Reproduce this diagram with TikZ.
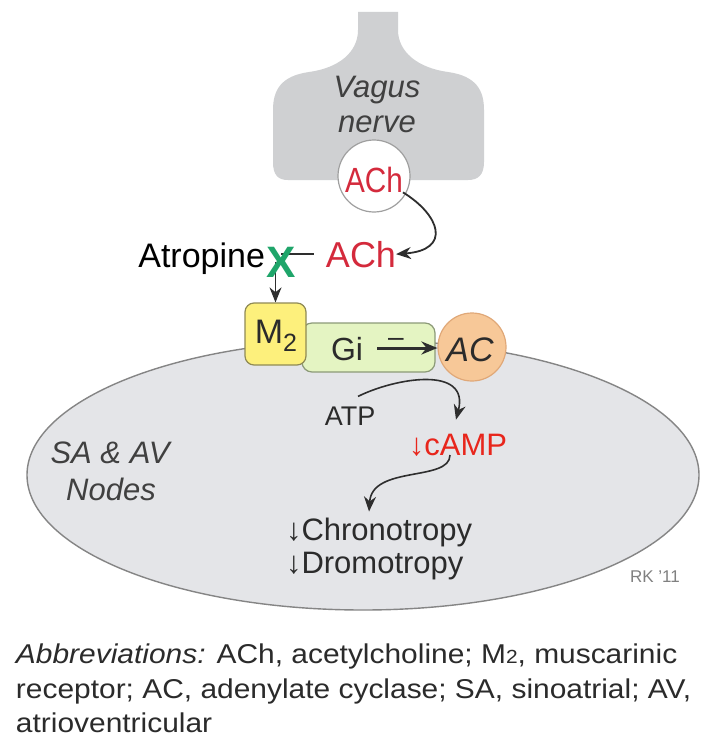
\documentclass[tikz,border=0pt]{standalone}
\usepackage{fontspec}
\setmainfont{Liberation Sans}
\newfontfamily\narrowfont[FakeStretch=0.85]{Liberation Sans}
\newfontfamily\widefont[FakeStretch=1.1]{Liberation Sans}
\usetikzlibrary{arrows.meta,calc}
\pgfdeclarelayer{back}
\pgfsetlayers{back,main}
\definecolor{txt}{HTML}{2B2B2B}
\definecolor{achred}{HTML}{D42A3C}
\definecolor{campred}{HTML}{E8261C}
\definecolor{xgreen}{HTML}{1FA56A}
\definecolor{vagusgray}{HTML}{CFD0D2}
\definecolor{cellgray}{HTML}{E4E5E8}
\definecolor{cellborder}{HTML}{858585}
\definecolor{myellow}{HTML}{FDF07C}
\definecolor{myellowb}{HTML}{8F8A55}
\definecolor{gigreen}{HTML}{E4F4C2}
\definecolor{gigreenb}{HTML}{8C9A78}
\definecolor{acorange}{HTML}{F7C898}
\definecolor{acorangeb}{HTML}{E0A878}
\definecolor{arrowc}{HTML}{2E2E2E}
\newcommand\fs[1]{\fontsize{#1}{#1}\selectfont}
\begin{document}
\begin{tikzpicture}[x=1pt,y=-1pt,
  lbl/.style={inner sep=0pt, outer sep=0pt, anchor=base, text=txt},
  conn/.style={draw=arrowc, line width=1.8pt, -{Stealth[length=15pt,width=12pt]}},
  plainline/.style={draw=arrowc, line width=1.8pt}]
\begin{pgfonlayer}{back}
\fill[white] (0,0) rectangle (720,749);
\end{pgfonlayer}
\useasboundingbox (0,0) rectangle (720,749);

% cell (SA & AV nodes)
\fill[cellgray, draw=cellborder, line width=1.4pt] (363,475) ellipse [x radius=336, y radius=135];

% vagus nerve terminal
\fill[vagusgray] (358,12) -- (398,12) -- (398,30)
  .. controls (398,52) and (418,68) .. (448,72)
  .. controls (476,76) and (484,90) .. (484,110) -- (484,162)
  .. controls (484,175) and (478,180) .. (468,180) -- (288,180)
  .. controls (278,180) and (273,175) .. (273,162) -- (273,110)
  .. controls (273,90) and (281,76) .. (309,72)
  .. controls (339,68) and (358,52) .. (358,30) -- cycle;
\node[lbl, text=txt!90] (vagus) at (377,98) {\fs{31}\itshape Vagus};
\node[lbl, text=txt!90] (nerve) at (377,132) {\fs{31}\itshape nerve};

\node[circle, draw=gray!75, fill=white, line width=1.2pt, minimum size=72pt, inner sep=0pt] (vesicle) at (374,176) {};
\node[lbl, text=achred] (achin) at (374,192) {\narrowfont\fs{35}ACh};

\node[lbl, text=achred] (ach2) at (361,267) {\fs{36}ACh};
\node[lbl, anchor=base east, text=black] (atropine) at (265,267) {\fs{34}Atropine};
\node[lbl, text=xgreen] (xmark) at (281,277) {\fs{44}\bfseries X};

% receptor complex
\node[draw=gigreenb, fill=gigreen, rounded corners=10pt, line width=1.2pt, minimum width=133pt, minimum height=49pt] (gi) at (368.5,347.5) {};
\node[draw=myellowb, fill=myellow, rounded corners=9pt, line width=1.2pt, minimum width=61pt, minimum height=62pt] (m2) at (275.5,334) {};
\node[circle, draw=acorangeb, fill=acorange, line width=1.2pt, minimum size=68pt, inner sep=0pt] (ac) at (472,347) {};
\node[lbl] (m2lbl) at (276,343) {\fs{34}M\raisebox{-8pt}{\fs{25}2}};
\node[lbl] (gilbl) at (347,360) {\fs{32}Gi};
\node[lbl] (aclbl) at (470,361) {\fs{34}\itshape AC};
\node[lbl] (minus) at (396,346) {\fs{28}\textendash};
\coordinate (gistart) at (377,348);
\draw[draw=arrowc, line width=3pt, -{Stealth[length=16pt,width=13pt]}] (gistart) -- (ac.west |- gistart);

% inside the cell
\node[lbl] (atp) at (350,425) {\fs{27}ATP};
\node[lbl, text=campred] (camp) at (458,455) {\fs{31}↓cAMP};
\node[lbl, anchor=base west] (chrono) at (286,540) {\fs{31}↓Chronotropy};
\node[lbl, anchor=base west] (dromo) at (286,573) {\fs{31}↓Dromotropy};
\node[lbl, text=txt!90] (sa) at (110,463) {\fs{31}\itshape SA \& AV};
\node[lbl, text=txt!90] (nodes) at (111,500) {\fs{31}\itshape Nodes};
\node[lbl, text=gray] (rk) at (655,582) {\fs{17}RK '11};

% abbreviations
\node[lbl, anchor=base west] (ab1) at (16,663) {\widefont\fs{27.2}\itshape Abbreviations:\upshape{} ACh, acetylcholine; M{\fs{19}2}, muscarinic};
\node[lbl, anchor=base west] (ab2) at (16,698) {\widefont\fs{27.2}receptor; AC, adenylate cyclase; SA, sinoatrial; AV,};
\node[lbl, anchor=base west] (ab3) at (16,732) {\widefont\fs{27.2}atrioventricular};

% connectors
\begin{pgfonlayer}{back}
\draw[plainline] ($(ach2.west)+(-12,0)$) -- (xmark.center |- ach2.west);
\draw[conn] (xmark.center -| m2.north) -- (m2.north);
\end{pgfonlayer}
\draw[conn] (achin.south east) .. controls (440,215) and (452,250) .. (ach2.east);
\draw[conn, line width=1.6pt] ($(atp.north)+(8,-10)$) .. controls (395,378) and (470,365) .. ($(camp.north)+(-2,-14)$);
\draw[conn, line width=1.6pt] ($(camp.base)+(-8,0)$) .. controls (450,482) and (372,465) .. ($(chrono.north)+(-10,-6)$);
\end{tikzpicture}
\end{document}
